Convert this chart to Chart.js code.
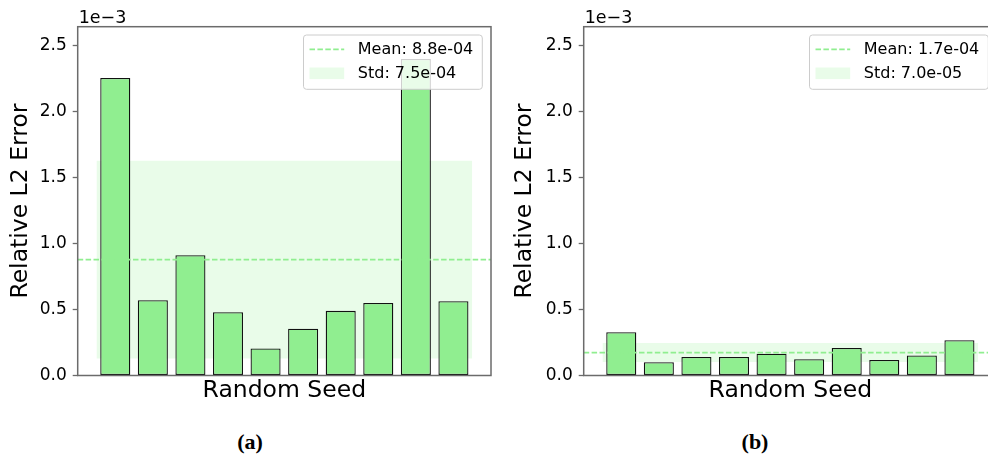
<!DOCTYPE html>
<html>
<head>
<meta charset="utf-8">
<script src="https://cdn.jsdelivr.net/npm/chart.js@4.4.1/dist/chart.umd.min.js"></script>
<style>
html, body { margin: 0; padding: 0; background: #fff; width: 988px; height: 458px; overflow: hidden; position: relative; }
.panel { position: absolute; top: 0; height: 410px; }
#panelA { left: 0; width: 500px; }
#panelB { left: 500px; width: 510px; }
.caption { position: absolute; top: 429px; font-family: "Liberation Serif", "Times New Roman", serif; font-weight: bold; font-size: 22px; transform: translateX(-50%); }
</style>
</head>
<body>
<div class="panel" id="panelA"><canvas id="chartA" width="500" height="410"></canvas></div>
<div class="panel" id="panelB"><canvas id="chartB" width="510" height="410"></canvas></div>
<div class="caption" style="left:250px">(a)</div>
<div class="caption" style="left:755px">(b)</div>
<script>
// values in units of 1e-3
const seeds = [0, 1, 2, 3, 4, 5, 6, 7, 8, 9];
const errorsA = [2.255, 0.570, 0.911, 0.480, 0.205, 0.354, 0.490, 0.550, 2.400, 0.563];
const errorsB = [0.328, 0.100, 0.140, 0.140, 0.165, 0.124, 0.208, 0.117, 0.152, 0.268];
const meanA = 0.878, stdA = 0.75;
const meanB = 0.174, stdB = 0.072;
const labelsA = ["Mean: 8.8e-04", "Std: 7.5e-04"];
const labelsB = ["Mean: 1.7e-04", "Std: 7.0e-05"];
const yTicks = [0, 0.5, 1.0, 1.5, 2.0, 2.5];
const yMax = 2.644;
const offsetText = "1e\u22123";

const green = "#90ee90";
const greenFill = "rgba(144, 238, 144, 0.2)";
const spine = "#6b6b6b";

Chart.defaults.font.family = "DejaVu Sans";
Chart.defaults.color = "#000";

// box around the plot area, offset text and the legend box
const framePlugin = {
    id: "frame",
    afterDatasetsDraw(chart, args, opts) {
        const ctx = chart.ctx;
        const a = chart.chartArea;
        ctx.save();
        ctx.strokeStyle = spine;
        ctx.lineWidth = 1.5;
        ctx.strokeRect(a.left, a.top, a.right - a.left, a.bottom - a.top);

        ctx.fillStyle = "#000";
        ctx.font = "17.5px 'DejaVu Sans'";
        ctx.textAlign = "left";
        ctx.textBaseline = "alphabetic";
        ctx.fillText(offsetText, a.left + 1, a.top - 4);

        ctx.font = "16px 'DejaVu Sans'";
        const textW = Math.max(...opts.labels.map(t => ctx.measureText(t).width));
        const w = 54.3 + textW + 9;
        const h = 54.3;
        const x = a.right - 8.7 - w;
        const y = a.top + 8.3;
        ctx.beginPath();
        ctx.roundRect(x, y, w, h, 3);
        ctx.fillStyle = "rgba(255,255,255,0.8)";
        ctx.fill();
        ctx.strokeStyle = "#cccccc";
        ctx.lineWidth = 1;
        ctx.stroke();

        ctx.strokeStyle = green;
        ctx.lineWidth = 1.8;
        ctx.setLineDash([5.5, 2.4]);
        ctx.beginPath();
        ctx.moveTo(x + 6, y + 14.3);
        ctx.lineTo(x + 40.7, y + 14.3);
        ctx.stroke();
        ctx.setLineDash([]);

        ctx.fillStyle = greenFill;
        ctx.fillRect(x + 6, y + 38.3 - 5.8, 34.7, 11.6);

        ctx.fillStyle = "#000";
        ctx.textBaseline = "middle";
        ctx.fillText(opts.labels[0], x + 54.3, y + 14.8);
        ctx.fillText(opts.labels[1], x + 54.3, y + 38.8);
        ctx.restore();
    }
};

function makeChart(id, errors, mean, std, labels, yAxisWidth, yTitlePad, rightPad) {
    const ctx = document.getElementById(id).getContext("2d");
    return new Chart(ctx, {
        type: "bar",
        data: {
            datasets: [
                {
                    type: "line",
                    data: [{ x: -0.5, y: mean + std }, { x: 9.5, y: mean + std }],
                    fill: { value: mean - std },
                    backgroundColor: greenFill,
                    borderWidth: 0,
                    pointRadius: 0,
                    order: 3
                },
                {
                    type: "bar",
                    data: seeds.map((s, i) => ({ x: s, y: errors[i] })),
                    backgroundColor: green,
                    borderColor: "#111",
                    borderWidth: 1.3,
                    borderSkipped: false,
                    categoryPercentage: 0.8,
                    barPercentage: 1.0,
                    order: 2
                },
                {
                    type: "line",
                    data: [{ x: -1, y: mean }, { x: 10, y: mean }],
                    borderColor: green,
                    borderWidth: 1.8,
                    borderDash: [5.5, 2.4],
                    pointRadius: 0,
                    fill: false,
                    order: 1
                }
            ]
        },
        options: {
            responsive: false,
            animation: false,
            layout: { padding: { top: 26.7, right: rightPad, left: 0, bottom: 0 } },
            plugins: {
                legend: { display: false },
                tooltip: { enabled: false },
                frame: { labels: labels }
            },
            scales: {
                x: {
                    type: "linear",
                    min: -1,
                    max: 10,
                    offset: false,
                    ticks: { display: false, stepSize: 1 },
                    grid: { display: false },
                    border: { display: false },
                    title: { display: true, text: "Random Seed", font: { size: 23.5 }, padding: { top: 0, bottom: 5 } },
                    afterFit(scale) { scale.height = 34.5; }
                },
                y: {
                    min: 0,
                    max: yMax,
                    afterBuildTicks(scale) { scale.ticks = yTicks.map(v => ({ value: v })); },
                    ticks: { font: { size: 17 }, padding: 6, callback: v => v.toFixed(1) },
                    grid: { display: true, drawOnChartArea: false, drawTicks: true, tickLength: 5, tickColor: spine, tickWidth: 1.3 },
                    border: { display: false },
                    title: { display: true, text: "Relative L2 Error", font: { size: 23.5 }, padding: { top: yTitlePad, bottom: 0 } },
                    afterFit(scale) { scale.width = yAxisWidth; }
                }
            }
        },
        plugins: [framePlugin]
    });
}

makeChart("chartA", errorsA, meanA, stdA, labelsA, 77.7, 6.7, 9);
makeChart("chartB", errorsB, meanB, stdB, labelsB, 83.7, 10.9, 13);
</script>
</body>
</html>
